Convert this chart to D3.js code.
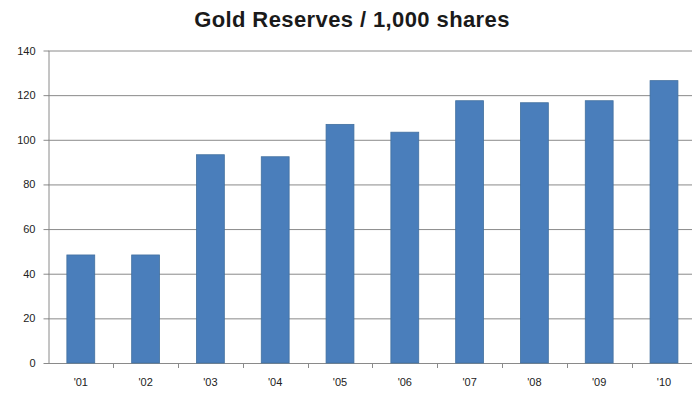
<!DOCTYPE html>
<html><head><meta charset="utf-8">
<script src="https://cdn.jsdelivr.net/npm/d3@7"></script>
<style>html,body{margin:0;padding:0;background:#fff;overflow:hidden}</style>
</head><body>
<script>
const categories = ["'01","'02","'03","'04","'05","'06","'07","'08","'09","'10"];
const values = [48.4, 48.4, 93.3, 92.4, 106.9, 103.4, 117.5, 116.6, 117.5, 126.5];
const yTicks = [0, 20, 40, 60, 80, 100, 120, 140];
const title = "Gold Reserves / 1,000 shares";

const W = 692, H = 394;
const svg = d3.select("body").append("svg").attr("width", W).attr("height", H)
  .style("font-family", "Arial, 'Liberation Sans', sans-serif");

const x = d3.scaleBand().domain(categories).range([48.4, 696.4]).paddingInner(0.57).paddingOuter(0.285);
const y = d3.scaleLinear().domain([0, 140]).range([363, 50.5]);

svg.append("text").attr("x", 352).attr("y", 27).attr("text-anchor", "middle")
  .attr("font-size", 22).attr("font-weight", "bold").attr("fill", "#1a1a1a")
  .attr("letter-spacing", 0.4).text(title);

// gridlines
svg.append("g").selectAll("line").data(yTicks).join("line")
  .attr("x1", 48).attr("x2", W).attr("y1", d => y(d) + 0.5).attr("y2", d => y(d) + 0.5)
  .attr("stroke", "#8a8a8a").attr("stroke-width", 1);

// y axis
const yAxis = svg.append("g").attr("transform", "translate(48.5,0)")
  .call(d3.axisLeft(y).tickValues(yTicks).tickSize(5).tickPadding(8).tickSizeOuter(0));
yAxis.select(".domain").attr("stroke", "#8a8a8a");
yAxis.selectAll(".tick line").attr("stroke", "#8a8a8a");
yAxis.selectAll("text").attr("font-size", 11).attr("fill", "#222").attr("font-family", "Arial, 'Liberation Sans', sans-serif");

// bars
svg.append("g").selectAll("rect").data(values).join("rect")
  .attr("x", (d, i) => x(categories[i]))
  .attr("y", d => y(d))
  .attr("width", x.bandwidth())
  .attr("height", d => y(0) - y(d))
  .attr("fill", "#4a7ebb")
  .attr("stroke", "#42709f").attr("stroke-width", 0.8);

// x axis labels and boundary ticks
const step = x.step();
const bounds = categories.slice(1).map((c, i) => x(c) - x.paddingInner() * step / 2);
svg.append("g").selectAll("line").data(bounds).join("line")
  .attr("x1", d => Math.round(d) + 0.5).attr("x2", d => Math.round(d) + 0.5)
  .attr("y1", y(0)).attr("y2", y(0) + 5).attr("stroke", "#8a8a8a");
svg.append("g").selectAll("text").data(categories).join("text")
  .attr("x", d => x(d) + x.bandwidth() / 2).attr("y", 386)
  .attr("text-anchor", "middle").attr("font-size", 11).attr("fill", "#222").text(d => d);
</script>
</body></html>
